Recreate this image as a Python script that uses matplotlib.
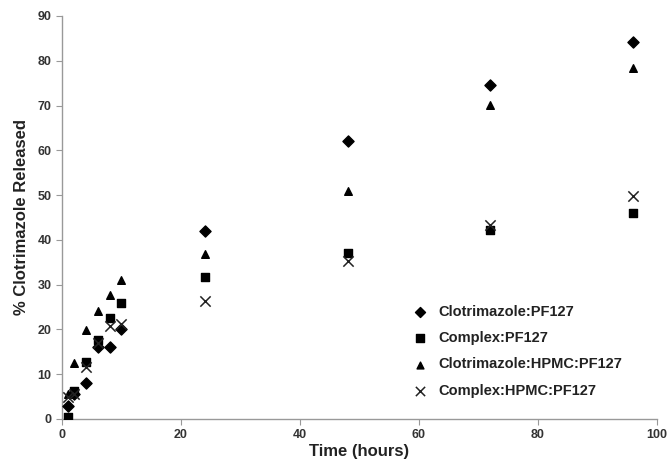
import matplotlib.pyplot as plt
import numpy as np

plt.rcParams['font.family'] = ['Liberation Sans', 'DejaVu Sans']
plt.rcParams['font.weight'] = 'bold'

time = [1, 2, 4, 6, 8, 10, 24, 48, 72, 96]
clot_pf127 = [3, 5.5, 8, 16, 16, 20, 42, 62, 74.6, 84.3]
complex_pf127 = [0.5, 6.2, 12.8, 17.6, 22.5, 25.8, 31.7, 37, 42.2, 46]
clot_hpmc = [5.5, 12.4, 19.8, 24.2, 27.8, 31, 36.8, 51, 70.1, 78.4]
complex_hpmc = [5, 5.5, 11.5, 17, 20.8, 21.2, 26.3, 35.3, 43.4, 49.7]

labels = ['Clotrimazole:PF127', 'Complex:PF127',
          'Clotrimazole:HPMC:PF127', 'Complex:HPMC:PF127']

fig = plt.figure(figsize=(6.7, 4.62), dpi=100)
ax = fig.add_axes([0.0925, 0.0931, 0.888, 0.8723])

ax.scatter(time, clot_pf127, marker='D', s=32, c='black', label=labels[0], zorder=3)
ax.scatter(time, complex_pf127, marker='s', s=40, c='black', label=labels[1], zorder=3)
ax.scatter(time, clot_hpmc, marker='^', s=30, c='black', label=labels[2], zorder=3)
ax.scatter(time, complex_hpmc, marker='x', s=55, c='#222222', linewidths=1.1,
           label=labels[3], zorder=3)

ax.set_xlim(0, 100)
ax.set_ylim(0, 90)
ax.set_xticks(np.arange(0, 101, 20))
ax.set_yticks(np.arange(0, 91, 10))
for s in ['top', 'right']:
    ax.spines[s].set_visible(False)
for s in ['left', 'bottom']:
    ax.spines[s].set_color('#999999')
    ax.spines[s].set_linewidth(1.0)
ax.tick_params(colors='#999999', labelcolor='#333333', labelsize=9,
               direction='out', length=4)
for lab in ax.get_xticklabels() + ax.get_yticklabels():
    lab.set_fontweight('bold')

ax.set_xlabel('Time (hours)', fontsize=12, fontweight='bold', color='#222222', labelpad=2)
ax.set_ylabel('% Clotrimazole Released', fontsize=12, fontweight='bold', color='#222222', labelpad=6)

leg = ax.legend(loc='lower right', bbox_to_anchor=(0.963, 0.02), frameon=False,
                prop={'weight': 'bold', 'size': 10.5}, handletextpad=0.2,
                labelspacing=0.85, markerscale=0.9)
for t in leg.get_texts():
    t.set_color('#222222')

fig.savefig('out.png', dpi=100)
